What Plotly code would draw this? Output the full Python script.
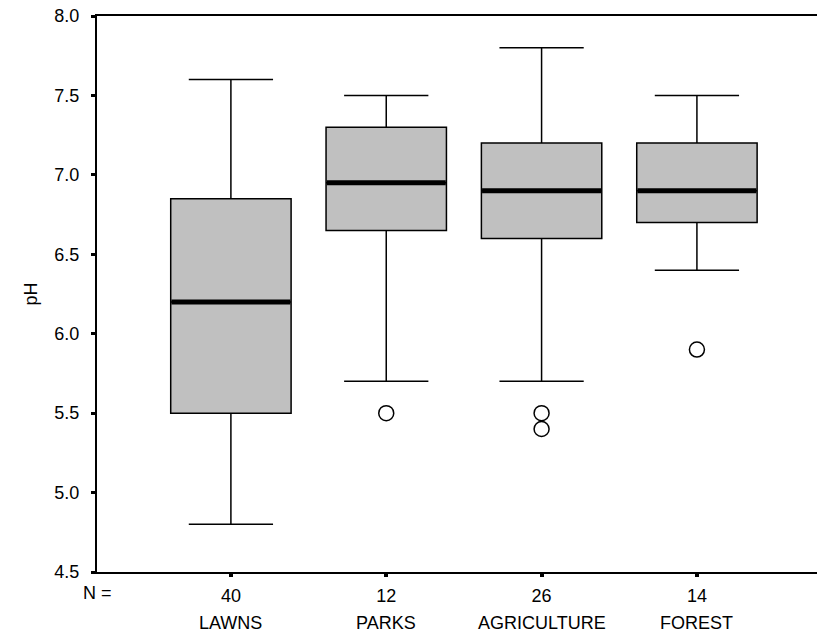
import plotly.graph_objects as go

categories = ["LAWNS", "PARKS", "AGRICULTURE", "FOREST"]
n_counts = ["40", "12", "26", "14"]
lower_whisker = [4.8, 5.7, 5.7, 6.4]
q1 = [5.5, 6.65, 6.6, 6.7]
median = [6.2, 6.95, 6.9, 6.9]
q3 = [6.85, 7.3, 7.2, 7.2]
upper_whisker = [7.6, 7.5, 7.8, 7.5]
outlier_cat = [1, 2, 2, 3]
outlier_val = [5.5, 5.5, 5.4, 5.9]

pos = list(range(len(categories)))
FONT = "Liberation Sans, Arial, sans-serif"
FS = 18

fig = go.Figure()
fig.add_trace(go.Box(
    x=pos, q1=q1, median=median, q3=q3,
    lowerfence=lower_whisker, upperfence=upper_whisker,
    width=0.775, whiskerwidth=0.7,
    fillcolor="#c0c0c0", line=dict(color="black", width=1.5),
    boxpoints=False, showlegend=False, hoverinfo="skip",
))
# thick median bars (line-ew symbol spans 1.4 x size)
fig.add_trace(go.Scatter(
    x=pos, y=median, mode="markers",
    marker=dict(symbol="line-ew", size=85, line=dict(color="black", width=5)),
    showlegend=False, hoverinfo="skip",
))
# outliers
fig.add_trace(go.Scatter(
    x=outlier_cat, y=outlier_val, mode="markers",
    marker=dict(symbol="circle-open", size=15, color="black", line=dict(width=1.5)),
    showlegend=False, hoverinfo="skip",
))

for i, c in enumerate(categories):
    fig.add_annotation(x=i, y=-0.092, xref="x", yref="paper", text=c,
                       showarrow=False, font=dict(family=FONT, size=FS, color="black"),
                       yanchor="middle")
fig.add_annotation(x=0, y=-0.038, xref="paper", yref="paper", text="N =",
                   showarrow=False, font=dict(family=FONT, size=FS, color="black"),
                   yanchor="middle", xanchor="center")

fig.update_layout(
    width=817, height=634, autosize=False,
    margin=dict(l=97, r=0, t=16, b=62, autoexpand=False),
    plot_bgcolor="white", paper_bgcolor="white",
    font=dict(family=FONT, size=FS, color="black"),
    xaxis=dict(range=[-0.862, 3.773], tickmode="array", tickvals=pos, ticktext=n_counts,
               showgrid=False, zeroline=False, showline=True, linecolor="black", linewidth=2,
               mirror=True, ticks="outside", ticklen=3, tickwidth=4, tickcolor="black",
               ticklabelstandoff=3),
    yaxis=dict(range=[4.5, 8.0], tickmode="array",
               tickvals=[4.5, 5.0, 5.5, 6.0, 6.5, 7.0, 7.5, 8.0],
               ticktext=["4.5", "5.0", "5.5", "6.0", "6.5", "7.0", "7.5", "8.0"],
               showgrid=False, zeroline=False, showline=True, linecolor="black", linewidth=2,
               ticks="outside", ticklen=4, tickwidth=3, tickcolor="black",
               ticklabelstandoff=8,
               title=dict(text="pH", font=dict(family=FONT, size=FS), standoff=12)),
)

fig.write_html("out.html", config={"displayModeBar": False},
               post_script="document.body.style.margin='0';document.body.style.padding='0';")
